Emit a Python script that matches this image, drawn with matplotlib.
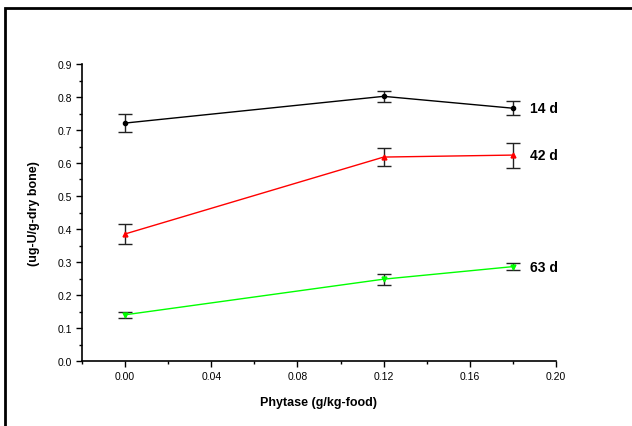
import matplotlib.pyplot as plt
from matplotlib.ticker import MultipleLocator
from matplotlib.patches import Rectangle

plt.rcParams['font.family'] = ['Liberation Sans', 'DejaVu Sans']

phytase = [0.0, 0.12, 0.18]
d14 = [0.721, 0.802, 0.766]
d14_err = [0.026, 0.017, 0.022]
d42 = [0.385, 0.618, 0.624]
d42_err = [0.029, 0.026, 0.038]
d63 = [0.140, 0.248, 0.286]
d63_err = [0.009, 0.017, 0.011]
labels = ['14 d', '42 d', '63 d']

fig = plt.figure(figsize=(6.32, 4.27), dpi=100)
ax = fig.add_axes([82 / 632, 65 / 427, 474 / 632, 297 / 427])

# frame around the whole picture (right/bottom edges fall outside)
fig.patches.append(Rectangle((4.5 / 632, -0.05), 1.2, (427 - 8.5) / 427 + 0.05,
                             transform=fig.transFigure, fill=False,
                             edgecolor='black', linewidth=2))

series = [(d14, d14_err, 'black', 'o', 3), (d42, d42_err, 'red', '^', 3.5),
          (d63, d63_err, '#00ff00', 'v', 3.5)]
for (vals, err, c, m, ms), lab in zip(series, labels):
    ax.plot(phytase, vals, color=c, marker=m, markersize=ms, linewidth=1, zorder=3)
    ax.errorbar(phytase, vals, yerr=err, fmt='none', ecolor='#222222',
                elinewidth=1, capsize=5, capthick=1, zorder=2)
    ax.annotate(lab, (phytase[-1], vals[-1]), xytext=(12, 0), textcoords='offset points',
                va='center', ha='left', fontsize=10, fontweight='bold')

ax.set_xlim(-0.02, 0.20)
ax.set_ylim(0.0, 0.9)
ax.xaxis.set_major_locator(MultipleLocator(0.04))
ax.xaxis.set_minor_locator(MultipleLocator(0.02))
ax.yaxis.set_major_locator(MultipleLocator(0.1))
ax.yaxis.set_minor_locator(MultipleLocator(0.05))
ax.set_xticks([0.0, 0.04, 0.08, 0.12, 0.16, 0.20])
ax.set_xticklabels(['0.00', '0.04', '0.08', '0.12', '0.16', '0.20'])
ax.tick_params(which='major', direction='out', length=4, width=1, labelsize=7.5, pad=3)
ax.tick_params(which='minor', direction='out', length=2.5, width=1)
ax.spines['top'].set_visible(False)
ax.spines['right'].set_visible(False)
ax.spines['left'].set_linewidth(1.2)
ax.spines['bottom'].set_linewidth(1.2)

ax.set_xlabel('Phytase (g/kg-food)', fontsize=9, fontweight='bold', labelpad=11)
ax.set_ylabel('(ug-U/g-dry bone)', fontsize=9, fontweight='bold', labelpad=13)

fig.savefig('out.png', dpi=100)
